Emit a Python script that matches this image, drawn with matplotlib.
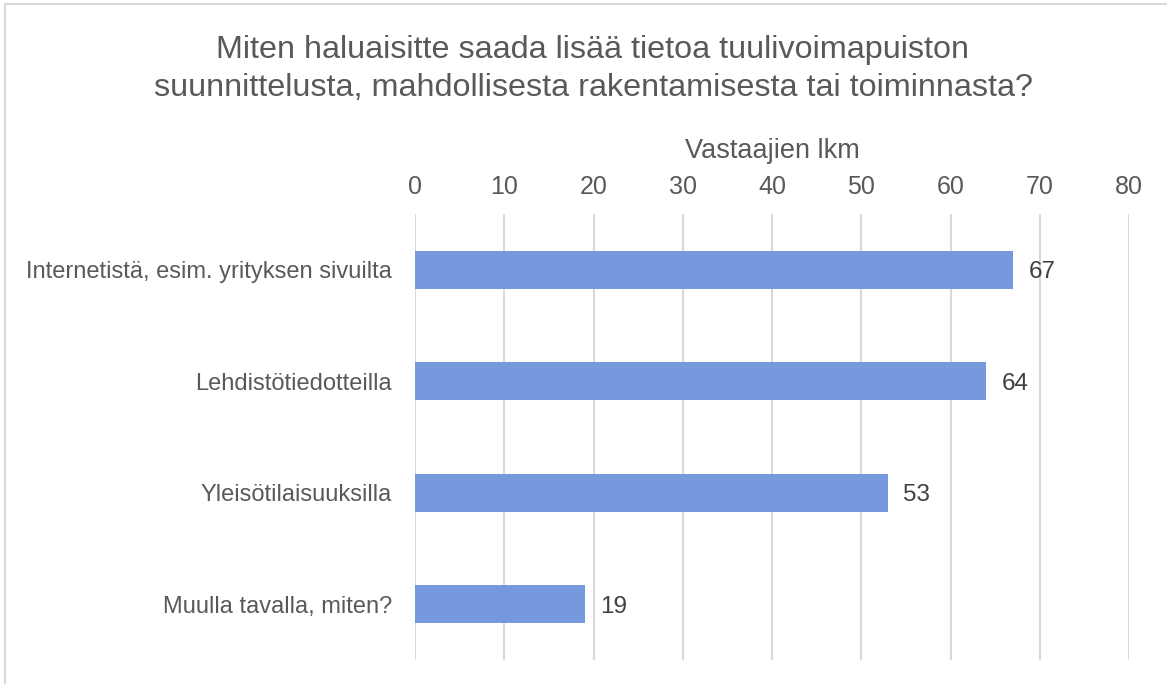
import matplotlib
matplotlib.use("Agg")
import matplotlib.pyplot as plt
from matplotlib.patches import Rectangle

categories = ["Internetistä, esim. yrityksen sivuilta", "Lehdistötiedotteilla",
              "Yleisötilaisuuksilla", "Muulla tavalla, miten?"]
values = [67, 64, 53, 19]
xticks = [0, 10, 20, 30, 40, 50, 60, 70, 80]
title = "Miten haluaisitte saada lisää tietoa tuulivoimapuiston\nsuunnittelusta, mahdollisesta rakentamisesta tai toiminnasta?"
xlabel = "Vastaajien lkm"

plt.rcParams['font.family'] = ['Liberation Sans', 'DejaVu Sans']
W, H = 1167, 684
fig = plt.figure(figsize=(W / 100, H / 100), dpi=100)
ax = fig.add_axes([415 / W, 1 - 660 / H, (1129 - 415) / W, (660 - 214) / H])

text_col = "#595959"
ypos = list(range(len(categories)))
ax.barh(ypos, values, height=0.34, color="#7699DE", zorder=3)
ax.set_ylim(len(categories) - 0.5, -0.5)
ax.set_xlim(0, 80)
ax.set_xticks(xticks)
ax.set_yticks(ypos)
ax.set_yticklabels(categories, fontsize=17, color=text_col)
ax.xaxis.tick_top()
ax.xaxis.set_label_position('top')
ax.tick_params(axis='x', length=0, pad=11, labelsize=18, labelcolor=text_col)
ax.tick_params(axis='y', length=0, pad=16.5)
ax.set_xlabel(xlabel, fontsize=19.5, color=text_col, labelpad=12)
ax.grid(axis='x', color="#D9D9D9", linewidth=1.5, zorder=0)
for s in ax.spines.values():
    s.set_visible(False)

for y, v in zip(ypos, values):
    ax.annotate(str(v), (v, y), xytext=(11, 0), textcoords='offset points',
                va='center_baseline', ha='left', fontsize=17.5, color="#404040")

fig.text(593 / W, 1 - 69 / H, title, ha='center', va='center', fontsize=23.3,
         color=text_col, linespacing=1.35)

fig.patches.append(Rectangle((5 / W, -0.01), 1.2, 1 - 4 / H + 0.01, transform=fig.transFigure,
                             fill=False, edgecolor="#D9D9D9", linewidth=1.5))

fig.savefig("out.png", dpi=100)
